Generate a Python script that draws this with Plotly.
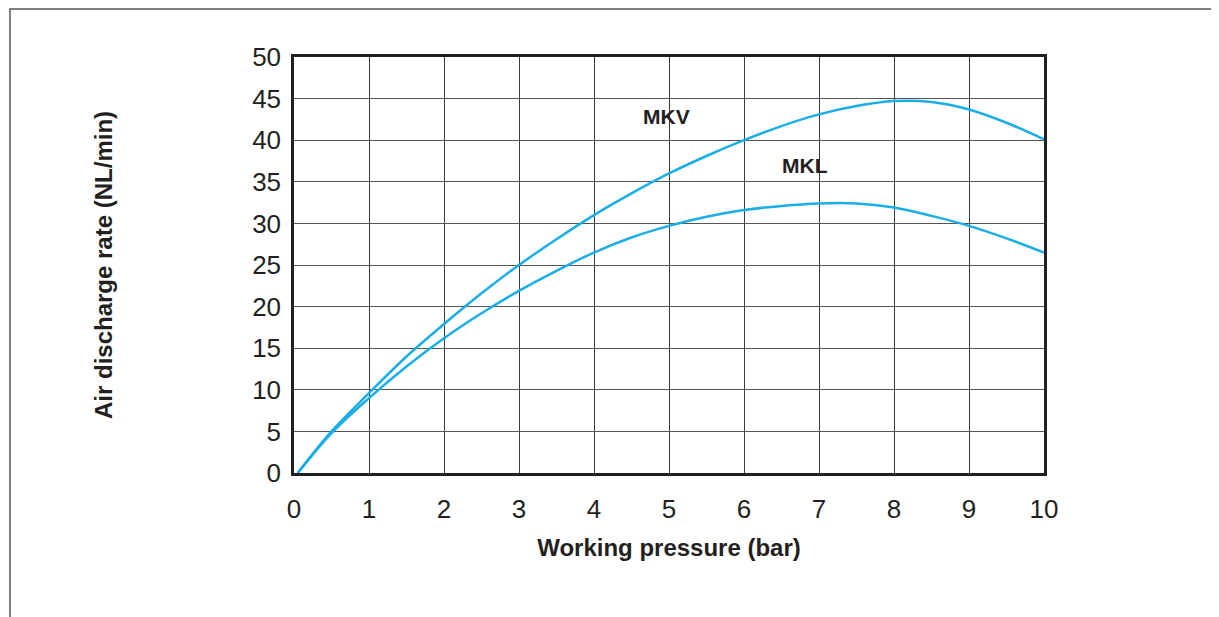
import plotly.graph_objects as go

pressure = [0.05, 0.5, 1.0, 1.5, 2.0, 2.5, 3.0, 3.5, 4.0, 4.5, 5.0,
            5.5, 6.0, 6.5, 7.0, 7.5, 8.0, 8.5, 9.0, 9.5, 10.0]
mkv = [0, 5.0, 9.6, 14.0, 17.9, 21.6, 25.0, 28.1, 31.0, 33.6, 36.0,
       38.1, 40.0, 41.7, 43.1, 44.1, 44.7, 44.6, 43.7, 42.1, 40.1]
mkl = [0, 4.8, 9.0, 12.8, 16.2, 19.2, 21.9, 24.3, 26.5, 28.3, 29.7,
       30.8, 31.6, 32.1, 32.4, 32.4, 31.9, 30.9, 29.7, 28.2, 26.5]

x_ticks = list(range(0, 11))
y_ticks = list(range(0, 51, 5))

curve_color = "#19AEE8"
text_color = "#231F20"
font_family = "Liberation Sans, Arial, sans-serif"

fig = go.Figure()
fig.add_trace(go.Scatter(x=pressure, y=mkv, mode="lines", name="MKV",
                         line=dict(color=curve_color, width=2.5, shape="spline")))
fig.add_trace(go.Scatter(x=pressure, y=mkl, mode="lines", name="MKL",
                         line=dict(color=curve_color, width=2.5, shape="spline")))

fig.add_annotation(x=4.97, y=42.9, text="<b>MKV</b>", showarrow=False,
                   font=dict(size=21, color=text_color, family=font_family))
fig.add_annotation(x=6.81, y=37.0, text="<b>MKL</b>", showarrow=False,
                   font=dict(size=21, color=text_color, family=font_family))

# outer frame
fig.add_shape(type="rect", xref="paper", yref="paper",
              x0=-0.3787, x1=1.26, y0=-0.42, y1=1.1154,
              line=dict(color="#555555", width=1.5), layer="below")

fig.update_xaxes(range=[0, 10], tickvals=x_ticks, ticktext=[str(v) for v in x_ticks],
                 showgrid=True, gridcolor="#3a3a3a", gridwidth=1,
                 showline=True, linecolor="#231F20", linewidth=2.5, mirror=True,
                 ticks="outside", ticklen=11, tickcolor="rgba(0,0,0,0)",
                 tickfont=dict(size=26, color=text_color, family=font_family),
                 zeroline=False,
                 title=dict(text="<b>Working pressure (bar)</b>", standoff=17,
                            font=dict(size=24, color=text_color, family=font_family)))
fig.update_yaxes(range=[0, 50], tickvals=y_ticks, ticktext=[str(v) for v in y_ticks],
                 showgrid=True, gridcolor="#555555", gridwidth=1,
                 showline=True, linecolor="#231F20", linewidth=2.5, mirror=True,
                 ticks="outside", ticklen=5, tickcolor="rgba(0,0,0,0)",
                 tickfont=dict(size=26, color=text_color, family=font_family),
                 zeroline=False,
                 title=dict(text="<b>Air discharge rate (NL/min)</b>", standoff=133,
                            font=dict(size=24, color=text_color, family=font_family)))

fig.update_layout(width=1219, height=617, showlegend=False,
                  margin=dict(l=286, r=183, t=49, b=152),
                  paper_bgcolor="white", plot_bgcolor="white")

fig.write_html("out.html")
